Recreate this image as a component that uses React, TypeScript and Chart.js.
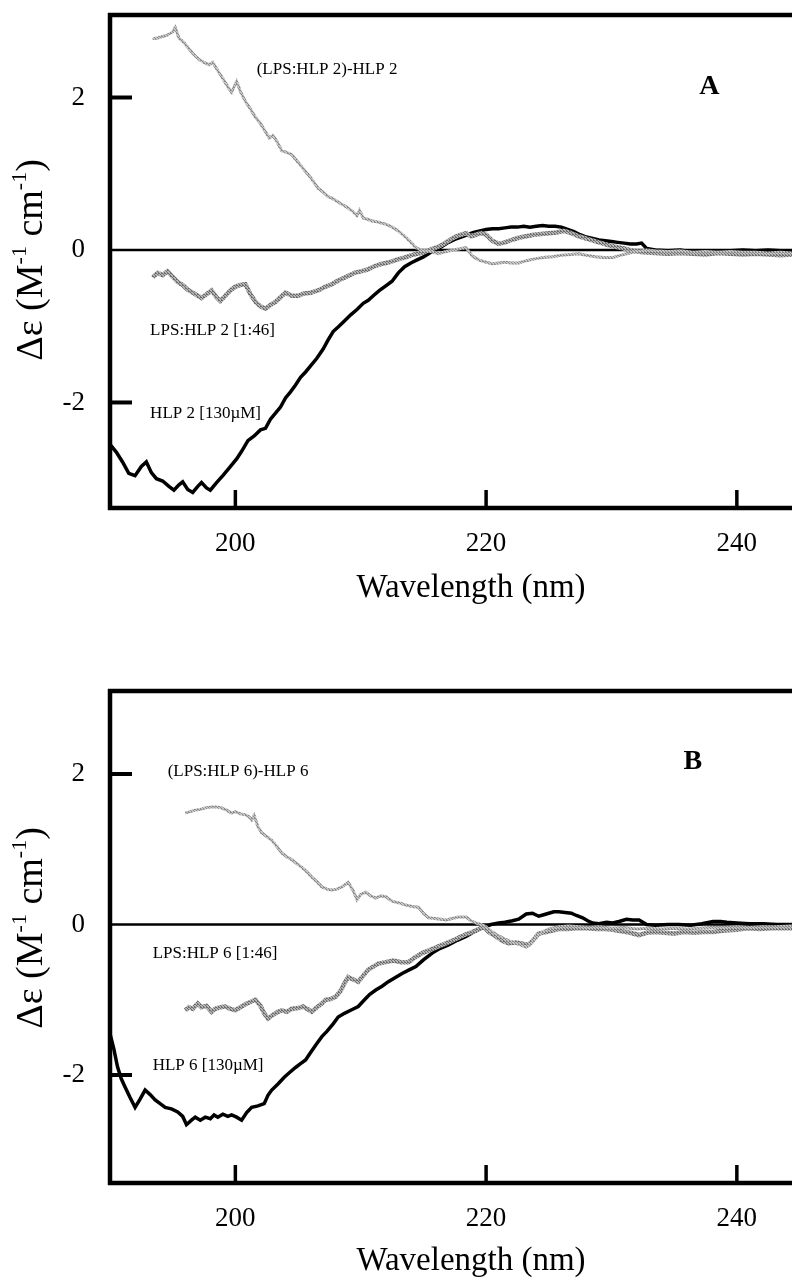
import React, { useEffect, useRef } from "react";
import Chart from "chart.js/auto";

// ---------- axes ----------
const X_TICKS = [200, 220, 240];
const Y_TICKS = [-2, 0, 2];
const X_MIN = 190;
const X_MAX = 244.4;
const X_TITLE = "Wavelength (nm)";

// ---------- Panel A data: [wavelength nm, Δε] ----------
const hlp2: number[][] = [
  [190.0, -2.55], [190.5, -2.65], [191.0, -2.78], [191.5, -2.93], [192.0, -2.96], [192.5, -2.84], [192.9, -2.78],
  [193.3, -2.92], [193.7, -3.0], [194.2, -3.03], [194.7, -3.1], [195.1, -3.15], [195.5, -3.08], [195.8, -3.04],
  [196.2, -3.14], [196.6, -3.18], [197.0, -3.1], [197.3, -3.05], [197.7, -3.12], [198.0, -3.15], [198.5, -3.05],
  [199.0, -2.96], [199.5, -2.86], [200.1, -2.74], [200.5, -2.64], [201.0, -2.5], [201.5, -2.44], [202.0, -2.36],
  [202.4, -2.34], [202.8, -2.22], [203.2, -2.14], [203.6, -2.06], [204.0, -1.94], [204.4, -1.86], [204.8, -1.77],
  [205.2, -1.67], [205.6, -1.6], [206.0, -1.52], [206.5, -1.42], [207.0, -1.3], [207.4, -1.18], [207.8, -1.07],
  [208.2, -1.01], [208.7, -0.93], [209.2, -0.85], [209.7, -0.78], [210.2, -0.7], [210.6, -0.66], [211.0, -0.6],
  [211.5, -0.53], [212.0, -0.47], [212.5, -0.41], [213.0, -0.3], [213.5, -0.22], [214.0, -0.17], [214.5, -0.13],
  [215.0, -0.09], [215.5, -0.04], [216.0, 0.0], [216.5, 0.05], [217.0, 0.1], [217.5, 0.14], [218.0, 0.17],
  [218.5, 0.2], [219.0, 0.23], [219.5, 0.25], [220.0, 0.27], [220.5, 0.28], [221.0, 0.28], [221.5, 0.29],
  [222.0, 0.3], [222.5, 0.3], [223.0, 0.31], [223.5, 0.3], [224.0, 0.31], [224.5, 0.32], [225.0, 0.31],
  [225.5, 0.31], [226.0, 0.3], [226.5, 0.27], [227.0, 0.24], [227.5, 0.2], [228.0, 0.17], [228.5, 0.15],
  [229.0, 0.13], [229.5, 0.12], [230.0, 0.11], [230.5, 0.1], [231.0, 0.09], [231.5, 0.08], [232.0, 0.08],
  [232.4, 0.09], [232.8, 0.02], [233.5, 0.0], [234.5, -0.01], [235.5, 0.0], [236.5, -0.03], [237.5, -0.04],
  [238.5, -0.02], [239.5, -0.01], [240.5, 0.0], [241.5, -0.01], [242.5, 0.0], [243.5, -0.01], [244.4, -0.01],
];

const lps2: number[][] = [
  [193.4, -0.36], [193.8, -0.3], [194.2, -0.33], [194.6, -0.28], [195.0, -0.35], [195.4, -0.42], [195.8, -0.46],
  [196.2, -0.52], [196.6, -0.56], [197.0, -0.6], [197.3, -0.63], [197.7, -0.58], [198.1, -0.53], [198.5, -0.62],
  [198.8, -0.67], [199.2, -0.6], [199.6, -0.53], [200.0, -0.48], [200.4, -0.46], [200.8, -0.45], [201.2, -0.58],
  [201.6, -0.68], [202.0, -0.74], [202.4, -0.77], [202.8, -0.72], [203.2, -0.68], [203.6, -0.62], [204.0, -0.56],
  [204.5, -0.6], [205.0, -0.6], [205.5, -0.57], [206.0, -0.56], [206.6, -0.53], [207.2, -0.48], [207.7, -0.45],
  [208.2, -0.4], [208.6, -0.37], [209.0, -0.34], [209.5, -0.3], [210.0, -0.28], [210.5, -0.26], [211.0, -0.22],
  [211.5, -0.19], [212.0, -0.17], [212.5, -0.15], [213.0, -0.12], [213.5, -0.1], [214.0, -0.07], [214.5, -0.05],
  [215.0, -0.03], [215.5, 0.0], [216.0, 0.03], [216.5, 0.07], [217.0, 0.12], [217.5, 0.17], [218.0, 0.2],
  [218.4, 0.22], [218.8, 0.18], [219.2, 0.2], [219.6, 0.22], [220.0, 0.2], [220.5, 0.12], [221.0, 0.08],
  [221.5, 0.1], [222.0, 0.13], [222.6, 0.16], [223.2, 0.18], [223.8, 0.2], [224.4, 0.21], [225.0, 0.22],
  [225.6, 0.23], [226.2, 0.25], [226.8, 0.22], [227.4, 0.18], [228.0, 0.15], [228.6, 0.12], [229.2, 0.09],
  [229.8, 0.06], [230.4, 0.04], [231.0, 0.02], [231.7, -0.01], [232.5, -0.03], [233.5, -0.04], [234.5, -0.05],
  [235.5, -0.04], [236.5, -0.05], [237.5, -0.06], [238.5, -0.04], [239.5, -0.05], [240.5, -0.06], [241.5, -0.05],
  [242.5, -0.06], [243.5, -0.07], [244.4, -0.06],
];

const diff2: number[][] = [
  [193.4, 2.77], [193.8, 2.78], [194.2, 2.8], [194.6, 2.82], [195.0, 2.86], [195.2, 2.92], [195.5, 2.78],
  [195.9, 2.72], [196.3, 2.64], [196.7, 2.56], [197.1, 2.5], [197.5, 2.46], [197.9, 2.43], [198.2, 2.46],
  [198.6, 2.35], [199.0, 2.25], [199.4, 2.14], [199.7, 2.07], [200.1, 2.21], [200.4, 2.08], [200.8, 1.95],
  [201.2, 1.85], [201.6, 1.74], [202.0, 1.66], [202.4, 1.55], [202.7, 1.47], [203.0, 1.5], [203.3, 1.43],
  [203.7, 1.3], [204.1, 1.28], [204.5, 1.25], [204.9, 1.17], [205.3, 1.09], [205.6, 1.03], [206.0, 0.95],
  [206.3, 0.88], [206.6, 0.81], [207.0, 0.76], [207.4, 0.7], [207.7, 0.68], [208.1, 0.64], [208.5, 0.6],
  [209.0, 0.55], [209.4, 0.5], [209.7, 0.45], [209.9, 0.52], [210.2, 0.42], [210.6, 0.4], [210.9, 0.38],
  [211.3, 0.37], [211.7, 0.35], [212.0, 0.34], [212.5, 0.3], [213.0, 0.25], [213.5, 0.18], [214.0, 0.1],
  [214.4, 0.03], [214.8, 0.0], [215.2, -0.01], [215.6, -0.02], [216.2, -0.05], [216.8, -0.02], [217.4, 0.0],
  [218.0, 0.02], [218.4, 0.03], [218.9, -0.08], [219.4, -0.13], [220.0, -0.16], [220.5, -0.18], [221.0, -0.17],
  [221.5, -0.16], [222.0, -0.17], [222.6, -0.17], [223.2, -0.14], [223.8, -0.12], [224.5, -0.1], [225.3, -0.09],
  [226.0, -0.07], [226.7, -0.06], [227.4, -0.05], [228.0, -0.07], [228.7, -0.09], [229.4, -0.1], [230.1, -0.1],
  [230.7, -0.07], [231.2, -0.05], [232.0, -0.02], [232.8, 0.0], [233.5, -0.01], [234.5, -0.02], [235.5, -0.01],
  [236.5, -0.03], [237.5, -0.02], [238.5, -0.03], [239.5, -0.02], [240.5, -0.03], [241.5, -0.03], [242.5, -0.04],
  [243.5, -0.03], [244.4, -0.04],
];

// ---------- Panel B data ----------
const hlp6: number[][] = [
  [190.0, -1.45], [190.3, -1.65], [190.6, -1.89], [190.9, -2.05], [191.2, -2.16], [191.6, -2.3], [192.0, -2.43],
  [192.4, -2.32], [192.8, -2.2], [193.2, -2.26], [193.6, -2.33], [194.0, -2.38], [194.4, -2.43], [194.9, -2.45],
  [195.4, -2.49], [195.8, -2.55], [196.1, -2.66], [196.5, -2.6], [196.8, -2.56], [197.2, -2.6], [197.6, -2.56],
  [198.0, -2.58], [198.3, -2.53], [198.6, -2.56], [199.0, -2.52], [199.4, -2.55], [199.7, -2.53], [200.1, -2.56],
  [200.5, -2.6], [200.9, -2.5], [201.3, -2.43], [201.8, -2.41], [202.3, -2.38], [202.6, -2.27], [202.9, -2.2],
  [203.4, -2.12], [203.9, -2.03], [204.3, -1.97], [204.8, -1.9], [205.2, -1.85], [205.6, -1.8], [206.0, -1.7],
  [206.5, -1.58], [206.9, -1.49], [207.3, -1.42], [207.8, -1.32], [208.2, -1.23], [208.7, -1.18], [209.2, -1.14],
  [209.8, -1.09], [210.3, -1.0], [210.7, -0.93], [211.2, -0.87], [211.7, -0.82], [212.2, -0.76], [212.8, -0.7],
  [213.3, -0.65], [213.9, -0.6], [214.4, -0.56], [215.0, -0.47], [215.7, -0.38], [216.3, -0.32], [217.0, -0.27],
  [217.7, -0.21], [218.4, -0.16], [218.9, -0.11], [219.4, -0.07], [219.9, -0.03], [220.4, 0.0], [221.0, 0.02],
  [221.5, 0.03], [222.1, 0.05], [222.6, 0.07], [223.2, 0.14], [223.7, 0.15], [224.2, 0.11], [224.6, 0.13],
  [225.0, 0.15], [225.4, 0.17], [225.8, 0.17], [226.3, 0.16], [226.8, 0.15], [227.2, 0.12], [227.7, 0.09],
  [228.1, 0.05], [228.5, 0.02], [229.0, 0.01], [229.6, 0.03], [230.1, 0.02], [230.6, 0.04], [231.2, 0.07],
  [231.7, 0.06], [232.2, 0.06], [232.8, 0.0], [233.5, -0.01], [234.5, 0.0], [235.4, 0.0], [236.3, -0.01],
  [237.2, 0.01], [238.1, 0.04], [238.7, 0.04], [239.2, 0.03], [240.0, 0.02], [241.0, 0.01], [242.1, 0.01],
  [243.2, 0.0], [244.4, 0.0],
];

const lps6: number[][] = [
  [196.0, -1.14], [196.3, -1.1], [196.6, -1.12], [197.0, -1.05], [197.3, -1.1], [197.7, -1.08], [198.1, -1.16],
  [198.4, -1.12], [198.8, -1.1], [199.2, -1.09], [199.6, -1.12], [200.0, -1.14], [200.4, -1.1], [200.8, -1.06],
  [201.2, -1.03], [201.6, -1.0], [202.0, -1.08], [202.3, -1.18], [202.6, -1.25], [203.0, -1.2], [203.4, -1.16],
  [203.7, -1.14], [204.1, -1.16], [204.5, -1.12], [205.0, -1.11], [205.4, -1.09], [205.8, -1.13], [206.1, -1.16],
  [206.5, -1.1], [206.9, -1.05], [207.2, -1.0], [207.6, -0.99], [208.0, -0.96], [208.4, -0.88], [208.7, -0.78],
  [209.0, -0.7], [209.4, -0.73], [209.8, -0.76], [210.2, -0.68], [210.6, -0.6], [211.0, -0.56], [211.4, -0.52],
  [212.0, -0.5], [212.6, -0.48], [213.2, -0.5], [213.8, -0.5], [214.3, -0.44], [214.9, -0.38], [215.5, -0.34],
  [216.2, -0.29], [216.8, -0.25], [217.5, -0.2], [218.0, -0.16], [218.4, -0.13], [218.9, -0.1], [219.4, -0.06],
  [219.8, -0.03], [220.2, -0.1], [220.8, -0.16], [221.3, -0.22], [221.8, -0.25], [222.4, -0.24], [223.0, -0.26],
  [223.4, -0.27], [223.8, -0.2], [224.2, -0.12], [224.8, -0.1], [225.3, -0.08], [225.8, -0.06], [226.5, -0.06],
  [227.2, -0.05], [228.0, -0.05], [228.8, -0.06], [229.5, -0.06], [230.1, -0.07], [230.8, -0.09], [231.5, -0.11],
  [232.2, -0.14], [232.8, -0.11], [233.5, -0.1], [234.2, -0.11], [235.0, -0.12], [235.8, -0.1], [236.6, -0.11],
  [237.4, -0.1], [238.1, -0.1], [239.0, -0.08], [240.0, -0.07], [240.8, -0.05], [241.8, -0.06], [242.8, -0.05],
  [243.6, -0.05], [244.4, -0.05],
];

const diff6: number[][] = [
  [196.0, 1.48], [196.4, 1.5], [196.8, 1.52], [197.2, 1.53], [197.6, 1.55], [198.1, 1.56], [198.5, 1.56],
  [198.9, 1.55], [199.3, 1.52], [199.7, 1.48], [200.0, 1.5], [200.4, 1.47], [200.8, 1.46], [201.1, 1.43],
  [201.3, 1.39], [201.5, 1.45], [201.8, 1.3], [202.1, 1.22], [202.5, 1.17], [202.9, 1.12], [203.3, 1.04],
  [203.7, 0.95], [204.1, 0.9], [204.5, 0.86], [204.9, 0.81], [205.3, 0.76], [205.7, 0.7], [206.1, 0.63],
  [206.5, 0.57], [206.9, 0.5], [207.3, 0.47], [207.7, 0.46], [208.1, 0.47], [208.5, 0.5], [209.0, 0.56],
  [209.4, 0.45], [209.7, 0.33], [210.0, 0.4], [210.4, 0.43], [210.8, 0.38], [211.2, 0.35], [211.6, 0.38],
  [212.0, 0.37], [212.5, 0.31], [213.0, 0.29], [213.6, 0.26], [214.1, 0.24], [214.6, 0.23], [215.0, 0.15],
  [215.4, 0.09], [215.9, 0.08], [216.4, 0.07], [216.8, 0.06], [217.3, 0.08], [217.8, 0.1], [218.4, 0.1],
  [218.8, 0.05], [219.2, 0.02], [219.6, 0.0], [220.0, -0.03], [220.5, -0.1], [221.0, -0.15], [221.6, -0.2],
  [222.2, -0.24], [222.7, -0.27], [223.2, -0.3], [223.6, -0.25], [224.0, -0.16], [224.5, -0.1], [225.0, -0.06],
  [225.8, -0.03], [226.6, -0.02], [227.4, -0.03], [228.2, -0.04], [229.0, -0.03], [230.0, -0.05], [231.0, -0.04],
  [232.0, -0.06], [233.0, -0.05], [234.0, -0.06], [235.0, -0.05], [236.0, -0.06], [237.0, -0.05], [238.0, -0.04],
  [239.0, -0.04], [240.0, -0.03], [241.0, -0.04], [242.0, -0.03], [243.0, -0.03], [244.4, -0.02],
];

// ---------- labels (anchored in data coordinates) ----------
const labelsA = [
  { text: "(LPS:HLP 2)-HLP 2", x: 201.7, y: 2.37 },
  { text: "LPS:HLP 2 [1:46]", x: 193.2, y: -1.06 },
  { text: "HLP 2 [130µM]", x: 193.2, y: -2.15 },
];
const letterA = { text: "A", x: 237.8, y: 2.14 };

const labelsB = [
  { text: "(LPS:HLP 6)-HLP 6", x: 194.6, y: 2.03 },
  { text: "LPS:HLP 6 [1:46]", x: 193.4, y: -0.38 },
  { text: "HLP 6 [130µM]", x: 193.4, y: -1.87 },
];
const letterB = { text: "B", x: 236.5, y: 2.16 };

const SERIF = "'Liberation Serif', 'Times New Roman', serif";

const decorPlugin = {
  id: "decor",
  beforeDatasetsDraw(chart: any) {
    const { ctx, chartArea: a, scales } = chart;
    const y0 = scales.y.getPixelForValue(0);
    ctx.save();
    ctx.strokeStyle = "#000";
    ctx.lineWidth = 2.5;
    ctx.beginPath();
    ctx.moveTo(a.left, y0);
    ctx.lineTo(a.right, y0);
    ctx.stroke();
    ctx.restore();
  },
  afterDatasetsDraw(chart: any, _args: any, opts: any) {
    const { ctx, chartArea: a, scales } = chart;
    const xs = scales.x;
    const ys = scales.y;
    ctx.save();
    ctx.strokeStyle = "#000";
    ctx.fillStyle = "#000";
    ctx.lineCap = "butt";
    // frame: top, left, bottom
    ctx.lineWidth = 4.5;
    ctx.beginPath();
    ctx.moveTo(a.left - 2, a.top);
    ctx.lineTo(a.right, a.top);
    ctx.moveTo(a.left, a.top - 2);
    ctx.lineTo(a.left, a.bottom + 2);
    ctx.moveTo(a.left - 2, a.bottom);
    ctx.lineTo(a.right, a.bottom);
    ctx.stroke();
    // inward ticks
    ctx.lineWidth = 3.5;
    X_TICKS.forEach((v) => {
      const px = xs.getPixelForValue(v);
      ctx.beginPath();
      ctx.moveTo(px, a.bottom);
      ctx.lineTo(px, a.bottom - 18);
      ctx.stroke();
    });
    ctx.lineWidth = 4;
    Y_TICKS.filter((v) => v !== 0).forEach((v) => {
      const py = ys.getPixelForValue(v);
      ctx.beginPath();
      ctx.moveTo(a.left, py);
      ctx.lineTo(a.left + 22, py);
      ctx.stroke();
    });
    // series labels
    ctx.textBaseline = "middle";
    ctx.textAlign = "left";
    ctx.font = `17px ${SERIF}`;
    opts.labels.forEach((l: any) => {
      ctx.fillText(l.text, xs.getPixelForValue(l.x), ys.getPixelForValue(l.y));
    });
    ctx.textAlign = "center";
    ctx.font = `bold 28px ${SERIF}`;
    ctx.fillText(opts.letter.text, xs.getPixelForValue(opts.letter.x), ys.getPixelForValue(opts.letter.y));
    // x title
    ctx.font = `33px ${SERIF}`;
    ctx.textAlign = "center";
    ctx.textBaseline = "alphabetic";
    ctx.fillText(X_TITLE, opts.xTitleX, opts.xTitleY);
    // y title with superscripts
    ctx.textBaseline = "middle";
    const parts = [
      { t: "Δε (M", sup: false },
      { t: "-1", sup: true },
      { t: " cm", sup: false },
      { t: "-1", sup: true },
      { t: ")", sup: false },
    ];
    const mainFont = `38px ${SERIF}`;
    const supFont = `22px ${SERIF}`;
    let total = 0;
    parts.forEach((p) => {
      ctx.font = p.sup ? supFont : mainFont;
      total += ctx.measureText(p.t).width;
    });
    ctx.translate(opts.yTitleX, opts.yTitleY);
    ctx.rotate(-Math.PI / 2);
    ctx.textAlign = "left";
    let cx = -total / 2;
    parts.forEach((p) => {
      ctx.font = p.sup ? supFont : mainFont;
      ctx.fillText(p.t, cx, p.sup ? -12 : 0);
      cx += ctx.measureText(p.t).width;
    });
    ctx.restore();
  },
};

type PanelCfg = {
  top: number;
  height: number;
  padTop: number;
  xAxisHeight: number;
  yMin: number;
  yMax: number;
  hlp: number[][];
  lps: number[][];
  diff: number[][];
  labels: { text: string; x: number; y: number }[];
  letter: { text: string; x: number; y: number };
  xTitleY: number;
  yTitleY: number;
};

const toXY = (arr: number[][]) => arr.map(([x, y]) => ({ x, y }));

function grainPattern(ctx: CanvasRenderingContext2D, dark: string, light: string) {
  const c = document.createElement("canvas");
  c.width = 3;
  c.height = 3;
  const g = c.getContext("2d") as CanvasRenderingContext2D;
  g.fillStyle = light;
  g.fillRect(0, 0, 3, 3);
  g.fillStyle = dark;
  g.fillRect(0, 0, 1, 1);
  g.fillRect(1, 1, 1, 1);
  g.fillRect(2, 2, 1, 1);
  g.fillRect(2, 0, 1, 1);
  return ctx.createPattern(c, "repeat") as CanvasPattern;
}

function Panel({ cfg }: { cfg: PanelCfg }) {
  const ref = useRef<HTMLCanvasElement>(null);
  useEffect(() => {
    const canvas = ref.current as HTMLCanvasElement;
    const c2d = canvas.getContext("2d") as CanvasRenderingContext2D;
    const lpsStroke = grainPattern(c2d, "#6e6e6e", "#b4b4b4");
    const diffStroke = grainPattern(c2d, "#8c8c8c", "#c6c6c6");
    const chart = new Chart(canvas, {
      type: "line",
      data: {
        datasets: [
          {
            data: toXY(cfg.diff),
            borderColor: diffStroke,
            borderWidth: 3,
            pointRadius: 0,
            tension: 0,
          },
          {
            data: toXY(cfg.lps),
            borderColor: lpsStroke,
            borderWidth: 4.5,
            pointRadius: 0,
            tension: 0,
          },
          {
            data: toXY(cfg.hlp),
            borderColor: "#000000",
            borderWidth: 3.5,
            pointRadius: 0,
            tension: 0,
          },
        ],
      },
      options: {
        animation: false,
        responsive: false,
        maintainAspectRatio: false,
        events: [],
        layout: { padding: { top: cfg.padTop, left: 0, right: 0, bottom: 0 } },
        plugins: {
          legend: { display: false },
          tooltip: { enabled: false },
          decor: {
            labels: cfg.labels,
            letter: cfg.letter,
            xTitleX: 471,
            xTitleY: cfg.xTitleY,
            yTitleX: 32,
            yTitleY: cfg.yTitleY,
          },
        } as any,
        scales: {
          x: {
            type: "linear",
            min: X_MIN,
            max: X_MAX,
            grid: { display: false, drawTicks: false },
            border: { display: false },
            afterBuildTicks: (s: any) => {
              s.ticks = X_TICKS.map((v) => ({ value: v }));
            },
            afterFit: (s: any) => {
              s.height = cfg.xAxisHeight;
              s.paddingLeft = 0;
              s.paddingRight = 0;
            },
            ticks: {
              padding: 20,
              color: "#000",
              font: { family: SERIF, size: 27 },
              maxRotation: 0,
            },
          },
          y: {
            type: "linear",
            min: cfg.yMin,
            max: cfg.yMax,
            grid: { display: false, drawTicks: false },
            border: { display: false },
            afterBuildTicks: (s: any) => {
              s.ticks = Y_TICKS.map((v) => ({ value: v }));
            },
            afterFit: (s: any) => {
              s.width = 110;
              s.paddingTop = 0;
              s.paddingBottom = 0;
            },
            ticks: {
              padding: 25,
              color: "#000",
              font: { family: SERIF, size: 27 },
              callback: (v: any) => String(v),
            },
          },
        },
      },
      plugins: [decorPlugin],
    } as any);
    return () => chart.destroy();
  }, []);
  return (
    <canvas
      ref={ref}
      width={792}
      height={cfg.height}
      style={{ position: "absolute", left: 0, top: cfg.top, width: 792, height: cfg.height }}
    />
  );
}

const panelA: PanelCfg = {
  top: 0,
  height: 620,
  padTop: 15,
  xAxisHeight: 112,
  yMin: -3.384,
  yMax: 3.082,
  hlp: hlp2,
  lps: lps2,
  diff: diff2,
  labels: labelsA,
  letter: letterA,
  xTitleY: 597,
  yTitleY: 260,
};

const panelB: PanelCfg = {
  top: 620,
  height: 661,
  padTop: 71,
  xAxisHeight: 98,
  yMin: -3.435,
  yMax: 3.103,
  hlp: hlp6,
  lps: lps6,
  diff: diff6,
  labels: labelsB,
  letter: letterB,
  xTitleY: 650,
  yTitleY: 308,
};

export default function App() {
  return (
    <div style={{ position: "absolute", left: 0, top: 0, width: 792, height: 1281, overflow: "hidden", background: "#fff" }}>
      <Panel cfg={panelA} />
      <Panel cfg={panelB} />
    </div>
  );
}
